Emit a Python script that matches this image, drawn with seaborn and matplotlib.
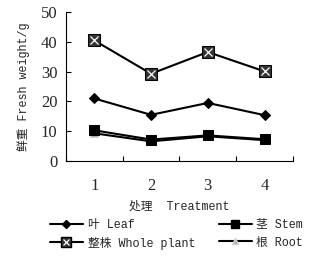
import matplotlib
matplotlib.use("Agg")
import matplotlib.pyplot as plt
from matplotlib.lines import Line2D
from matplotlib.legend_handler import HandlerTuple
import pandas as pd
import seaborn as sns

treatments = [1, 2, 3, 4]
leaf = [21.0, 15.5, 19.5, 15.4]
stem = [10.3, 7.2, 8.6, 7.3]
whole = [40.5, 29.3, 36.6, 30.1]
root = [9.3, 6.6, 8.3, 7.0]

labels = ["叶 Leaf", "茎 Stem", "整株 Whole plant", "根 Root"]

sns.set_theme(style="white")
plt.rcParams["font.family"] = ["Liberation Mono", "Noto Sans CJK SC"]
plt.rcParams["font.size"] = 8.5

rows = []
for name, vals in zip(labels, [leaf, stem, whole, root]):
    for t, v in zip(treatments, vals):
        rows.append({"treatment": t, "value": v, "series": name})
df = pd.DataFrame(rows)

fig = plt.figure(figsize=(3.28, 2.58), dpi=100)
ax = fig.add_axes([0.201, 0.376, 0.692, 0.577])

styles = {
    labels[0]: dict(marker="D", markersize=5, markerfacecolor="black", markeredgecolor="black"),
    labels[1]: dict(marker="s", markersize=7, markerfacecolor="black", markeredgecolor="black"),
    labels[2]: dict(marker="s", markersize=8, markerfacecolor="#333333", markeredgecolor="black"),
    labels[3]: dict(marker="^", markersize=6, markerfacecolor="#b0b0b0", markeredgecolor="#d0d0d0"),
}
draw_order = [labels[3], labels[1], labels[0], labels[2]]
for name in draw_order:
    sub = df[df.series == name]
    sns.lineplot(data=sub, x="treatment", y="value", ax=ax, color="black",
                 linewidth=1.5, legend=False, **styles[name])

# cross inside the whole-plant squares
sns.lineplot(data=df[df.series == labels[2]], x="treatment", y="value", ax=ax,
             color="white", linestyle="none", marker="x", markersize=6,
             markeredgewidth=0.9, legend=False)

ax.set_xlim(0.5, 4.5)
ax.set_ylim(0, 50)
ax.set_xticks(treatments)
ax.set_xticks([0.5, 1.5, 2.5, 3.5, 4.5], minor=True)
ax.set_yticks([0, 10, 20, 30, 40, 50])
ax.tick_params(axis="x", which="major", length=0, pad=12, labelsize=12)
ax.tick_params(axis="x", which="minor", direction="in", length=3.5, width=0.8, color="black",
               bottom=True)
ax.tick_params(axis="y", direction="in", length=3.5, width=0.8, color="black", labelsize=12,
               left=True, pad=6)
for lab in ax.get_yticklabels() + ax.get_xticklabels():
    lab.set_family(["Liberation Serif", "Noto Sans CJK SC"])
for s in ["top", "right"]:
    ax.spines[s].set_visible(False)
for s in ["left", "bottom"]:
    ax.spines[s].set_color("black")
    ax.spines[s].set_linewidth(0.8)

ax.set_xlabel("处理  Treatment", fontsize=8.5, labelpad=5)
ax.set_ylabel("鲜重 Fresh weight/g", fontsize=8.5, labelpad=8)

h_leaf = Line2D([], [], color="black", lw=1.5, **dict(styles[labels[0]], markersize=4.5))
h_stem = Line2D([], [], color="black", lw=1.5, **dict(styles[labels[1]], markersize=6))
h_whole = (Line2D([], [], color="black", lw=1.5, **dict(styles[labels[2]], markersize=6.5)),
           Line2D([], [], color="white", linestyle="none", marker="x", markersize=5,
                  markeredgewidth=0.9))
h_root = Line2D([], [], color="black", lw=1.5, **dict(styles[labels[3]], markersize=5))

fig.legend([h_leaf, h_whole, h_stem, h_root],
           [labels[0], labels[2], labels[1], labels[3]],
           handler_map={tuple: HandlerTuple(ndivide=1, pad=0)},
           ncol=2, loc="lower left", bbox_to_anchor=(0.13, 0.005),
           frameon=False, fontsize=8.5, handlelength=2.8, handletextpad=0.4,
           columnspacing=2.0, labelspacing=0.45, borderaxespad=0.2)

fig.savefig("out.png", dpi=100)
